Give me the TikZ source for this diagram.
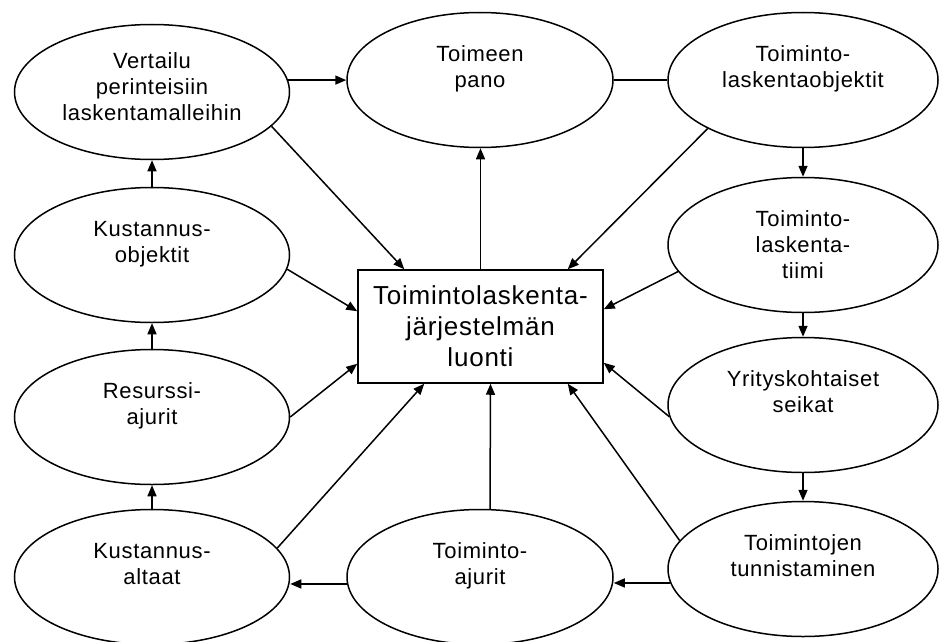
\documentclass[tikz,border=0pt]{standalone}
\usepackage{fontspec}
\setmainfont[LetterSpace=3]{Liberation Sans}
\usetikzlibrary{shapes.geometric,arrows.meta}
% text inside an oval: lines hang from a fixed top position
\newcommand{\ovaltext}[2][74pt]{\parbox[c][#1][t]{185pt}{\centering\strut #2}}
\begin{document}
\begin{tikzpicture}[x=1pt,y=-1pt,
  oval/.style={ellipse,draw=black,line width=1.5pt,inner sep=0pt,
    minimum width=#1,minimum height=135pt,
    font=\fontsize{22}{26}\selectfont},
  oval/.default=270pt,
  mainbox/.style={rectangle,draw=black,line width=1.5pt,inner sep=0pt,
    minimum width=245pt,minimum height=113pt,align=center,
    font=\fontsize{26}{31}\selectfont},
  link/.style={line width=1.5pt},
  arr/.style={link,-{Triangle[length=11pt,width=9pt]}}]

\useasboundingbox (0,0) rectangle (939,642);

% left column
\node[oval=275pt] (v)  at (152,92)  {\ovaltext[84pt]{Vertailu\\perinteisiin\\laskentamalleihin}};
\node[oval=275pt] (k)  at (152,255) {\ovaltext{Kustannus-\\objektit}};
\node[oval=275pt] (r)  at (152,417) {\ovaltext{Resurssi-\\ajurit}};
\node[oval=275pt] (ka) at (152,577) {\ovaltext{Kustannus-\\altaat}};

% middle column
\node[oval=266pt] (tp) at (480,80)  {\ovaltext{Toimeen\\pano}};
\node[mainbox]    (main) at (480.5,326.5) {Toimintolaskenta-\\järjestelmän\\luonti};
\node[oval=266pt] (ta) at (480,577) {\ovaltext{Toiminto-\\ajurit}};

% right column
\node[oval] (tlo) at (803,80)  {\ovaltext{Toiminto-\\laskentaobjektit}};
\node[oval] (ti)  at (803,245) {\ovaltext{Toiminto-\\laskenta-\\tiimi}};
\node[oval] (yr)  at (803,405) {\ovaltext{Yrityskohtaiset\\seikat}};
\node[oval] (tt)  at (803,569) {\ovaltext{Toimintojen\\tunnistaminen}};

% chain up the left side
\draw[arr] (k.north)  -- (v.south);
\draw[arr] (r.north)  -- (k.south);
\draw[arr] (ka.north) -- (r.south);

% top row
\draw[arr]  (v.5) -- (v.5 -| tp.west);
\draw[link] (tp.east) -- (tlo.west);

% chain down the right side
\draw[arr] (tlo.south) -- (ti.north);
\draw[arr] (ti.south)  -- (yr.north);
\draw[arr] (yr.south)  -- (tt.north);

% bottom row
\draw[arr] (tt.186) -- (tt.186 -| ta.east);
\draw[arr] (ta.183) -- (ta.183 -| ka.east);

% spokes into the central box
\draw[arr] (v.-16) -- ([xshift=47pt]main.north west);
\draw[arr] (k.-6)  -- ([yshift=-42pt]main.north west);
\draw[arr] (r.east) -- ([yshift=20pt]main.south west);
\draw[arr] (ka.13) -- ([xshift=67pt]main.south west);
\draw[arr] ([xshift=10pt]ta.north) -- ([xshift=10pt]main.south);
\draw[arr] (tlo.207) -- ([xshift=-36pt]main.north east);
\draw[arr] (ti.192) -- ([yshift=-40pt]main.north east);
\draw[arr] (yr.185) -- ([yshift=21pt]main.south east);
\draw[arr] (tt.167) -- ([xshift=-36pt]main.south east);

% the central box feeds the implementation
\draw[arr] (main.north) -- (main.north |- tp.south);
\end{tikzpicture}
\end{document}
